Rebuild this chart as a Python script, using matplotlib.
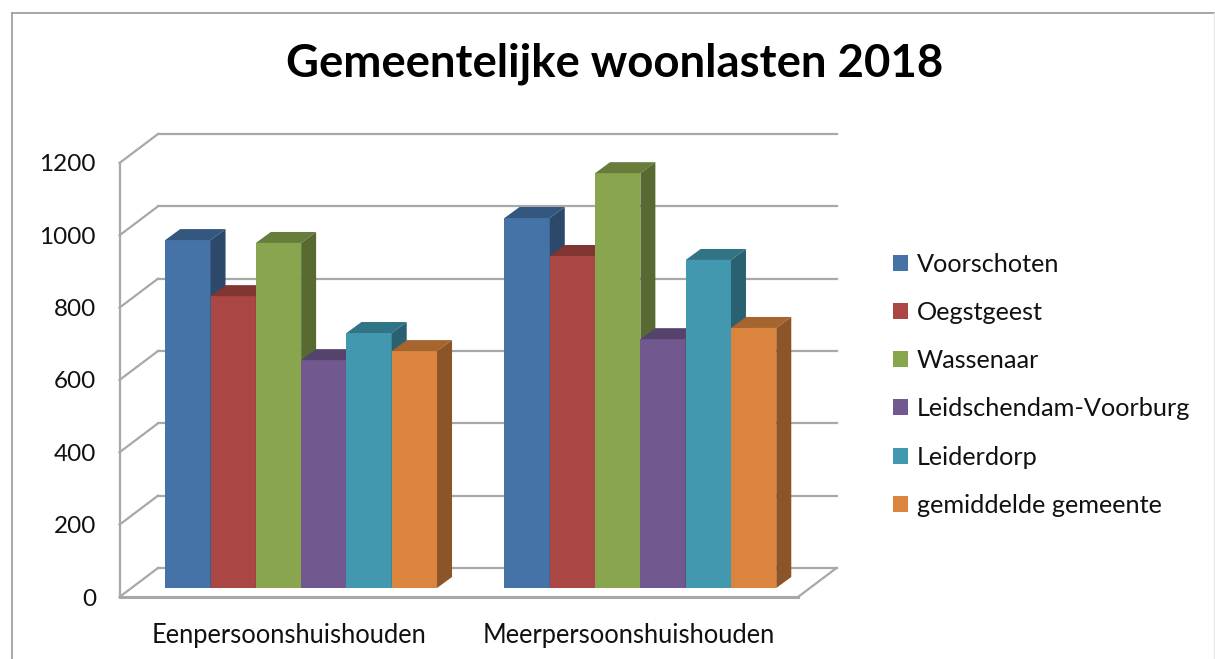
import numpy as np
import matplotlib
matplotlib.use("Agg")
import matplotlib.pyplot as plt
from matplotlib.lines import Line2D
from matplotlib.patches import Patch
from matplotlib.colors import to_rgb

# Donnees
categories = ["Eenpersoonshuishouden", "Meerpersoonshuishouden"]
voorschoten = [962, 1023]
oegstgeest = [807, 918]
wassenaar = [954, 1147]
leidschendam = [630, 688]
leiderdorp = [705, 907]
gemiddelde = [655, 719]
y_ticks = [0, 200, 400, 600, 800, 1000, 1200]

series_names = ["Voorschoten", "Oegstgeest", "Wassenaar", "Leidschendam-Voorburg",
                "Leiderdorp", "gemiddelde gemeente"]
series_values = [voorschoten, oegstgeest, wassenaar, leidschendam, leiderdorp, gemiddelde]
colors = ["#4572A7", "#AA4643", "#89A54E", "#71588F", "#4198AF", "#DB843D"]

W, H = 1215, 659
GRID = "#a8a8a8"
plt.rcParams["font.family"] = ["Lato", "DejaVu Sans"]

fig = plt.figure(figsize=(W / 100, H / 100), dpi=100)

# plan avant du faux 3D
left, right, bottom, top = 119.5, 798, 597, 163
ax = fig.add_axes([left / W, 1 - bottom / H, (right - left) / W, (bottom - top) / H])
ax.set_xlim(-0.5, 1.5)
ax.set_ylim(0, 1200)
for s in ax.spines.values():
    s.set_visible(False)
ax.patch.set_visible(False)

# conversion pixels -> unites des axes
px_x = 2.0 / (right - left)
px_y = 1200.0 / (bottom - top)


def depth(dx, dy):
    return dx * px_x, dy * px_y


# murs et grille
wall_dx, wall_dy = depth(38.5, 29)
for v in y_ticks:
    ax.plot([-0.5, -0.5 + wall_dx], [v, v + wall_dy], color=GRID, lw=1.6, clip_on=False, zorder=1)
    ax.plot([-0.5 + wall_dx, 1.5 + wall_dx], [v + wall_dy, v + wall_dy], color=GRID, lw=1.6,
            clip_on=False, zorder=1)
ax.plot([-0.5, -0.5], [0, 1200], color=GRID, lw=1.6, clip_on=False, zorder=1)
ax.plot([1.5, 1.5 + wall_dx], [0, wall_dy], color=GRID, lw=1.6, clip_on=False, zorder=1)
ax.plot([-0.5, 1.5], [0, 0], color=GRID, lw=2.2, clip_on=False, zorder=1)

# barres : face avant, dessus, cote
bar_w = 45.3 * px_x
base_dx, base_dy = depth(12, 9)
side_dx, side_dy = depth(15, 11)
n = len(series_values)
z = 2
for c in range(len(categories)):
    for i in range(n):
        v = series_values[i][c]
        x0 = c + (i - n / 2) * bar_w + base_dx
        x1 = x0 + bar_w
        y0 = base_dy
        y1 = base_dy + v
        rgb = np.array(to_rgb(colors[i]))
        ax.bar(x0, v, width=bar_w, bottom=y0, align="edge", color=colors[i], zorder=z, clip_on=False)
        ax.fill([x0, x1, x1 + side_dx, x0 + side_dx], [y1, y1, y1 + side_dy, y1 + side_dy],
                color=rgb * 0.76, lw=0, zorder=z, clip_on=False)
        ax.fill([x1, x1 + side_dx, x1 + side_dx, x1], [y0, y0 + side_dy, y1 + side_dy, y1],
                color=rgb * 0.64, lw=0, zorder=z, clip_on=False)
        z += 1

# axes
ax.set_yticks(y_ticks)
ax.set_xticks([0, 1])
ax.set_xticklabels(categories, fontsize=18.4)
ax.tick_params(axis="both", length=0, colors="#111111")
ax.tick_params(axis="y", labelsize=17.5, pad=17)
ax.tick_params(axis="x", pad=18.5)

fig.text(615 / W, 1 - 64 / H, "Gemeentelijke woonlasten 2018", fontsize=32.8, fontweight="bold",
         ha="center", va="center", color="black")

# legende
handles = [Patch(facecolor=col, edgecolor="none") for col in colors]
fig.legend(handles, series_names, loc="upper left", bbox_to_anchor=(893 / W, 1 - 252.5 / H),
           frameon=False, fontsize=18.2, handlelength=0.59, handleheight=0.59, handletextpad=0.36,
           labelspacing=1.0, borderpad=0, borderaxespad=0, labelcolor="#111111")

# cadre du graphique
fig.add_artist(Line2D([11.5 / W, 11.5 / W], [0, 1 - 13 / H], color="#a0a0a0", lw=1.3))
fig.add_artist(Line2D([11.5 / W, 1], [1 - 13 / H, 1 - 13 / H], color="#a0a0a0", lw=1.3))
fig.add_artist(Line2D([1213.5 / W, 1213.5 / W], [0, 1 - 13 / H], color="#e8e8e8", lw=1))

fig.savefig("out.png", dpi=100)
